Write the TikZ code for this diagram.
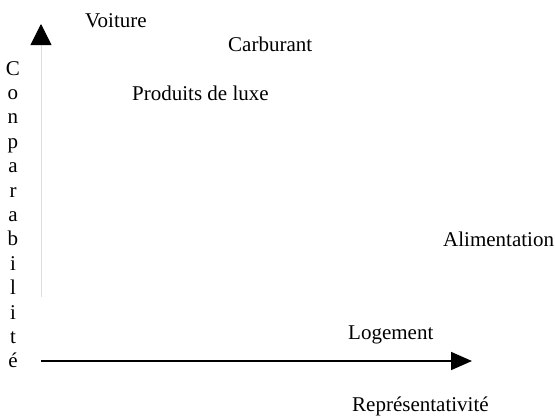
\documentclass[tikz,border=0pt]{standalone}
\usepackage{fontspec}
\setmainfont{Liberation Serif}
\usetikzlibrary{arrows.meta}
\begin{document}
\begin{tikzpicture}[x=1pt,y=-1pt,
  lbl/.style={font=\fontsize{21}{24}\selectfont, inner sep=0pt, anchor=base west},
  ltr/.style={font=\fontsize{21}{24}\selectfont, inner sep=0pt, anchor=base},
  yaxis/.style={draw=black!13, line width=0.8pt, -{Triangle[length=21pt,width=21pt,black]}},
  xaxis/.style={draw=black, line width=1.7pt, -{Triangle[length=21pt,width=18pt,black]}}]
\useasboundingbox (0,0) rectangle (555,416);
\coordinate (yb) at (41,297);
\coordinate (yt) at (41,24);
\coordinate (xl) at (41,361);
\coordinate (xr) at (472,361);
\draw[yaxis] (yb) -- (yt);
\draw[xaxis] (xl) -- (xr);
\node[lbl] (voiture) at (85,27) {Voiture};
\node[lbl] (carburant) at (228,51) {Carburant};
\node[lbl] (luxe) at (132,100) {Produits de luxe};
\node[lbl] (alim) at (443,246) {Alimentation};
\node[lbl] (logement) at (348,339) {Logement};
\node[lbl] (repr) at (352,411) {Représentativité};
\foreach \l [count=\i from 0] in {C,o,n,p,a,r,a,b,i,l,i,t,é}
  \node[ltr] (c\i) at (13,75+24.4*\i) {\l};
\end{tikzpicture}
\end{document}
